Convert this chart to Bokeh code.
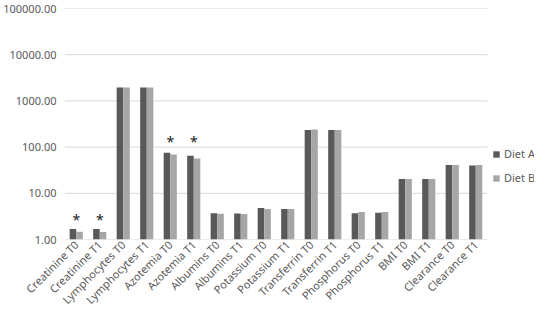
from math import pi
from bokeh.plotting import figure
from bokeh.models import (ColumnDataSource, FixedTicker, NumeralTickFormatter, Legend, LegendItem,
                          FactorRange)
from bokeh.transform import dodge
from bokeh.core.properties import value
from bokeh.embed import file_html
from bokeh.resources import INLINE

categories = ["Creatinine T0", "Creatinine T1", "Lymphocytes T0", "Lymphocytes T1",
              "Azotemia T0", "Azotemia T1", "Albumins T0", "Albumins T1",
              "Potassium T0", "Potassium T1", "Transferrin T0", "Transferrin T1",
              "Phosphorus T0", "Phosphorus T1", "BMI T0", "BMI T1",
              "Clearance T0", "Clearance T1"]
diet_a = [1.68, 1.68, 1950, 1950, 75, 65, 3.7, 3.65, 4.8, 4.6, 235, 235, 3.7, 3.8, 20.5, 20.5, 41, 40]
diet_b = [1.47, 1.45, 1950, 1950, 69, 57, 3.6, 3.55, 4.6, 4.6, 240, 235, 3.95, 3.95, 20.5, 20.5, 41, 41]
series_names = ["Diet A", "Diet B"]
series_colors = ["#595959", "#a6a6a6"]
star_cats = ["Creatinine T0", "Creatinine T1", "Azotemia T0", "Azotemia T1"]
star_y = [2.75, 2.75, 135, 135]
y_ticks = [1, 10, 100, 1000, 10000, 100000]

# blank slots on the right of the frame, reserved for the legend
legend_slots = [" ", "  "]

src = ColumnDataSource(dict(cat=categories, a=diet_a, b=diet_b, base=[1] * len(categories)))

p = figure(width=534, height=315, x_range=FactorRange(*(categories + legend_slots)),
           y_axis_type="log", y_range=(1, 100000), output_backend="svg", toolbar_location=None,
           min_border_left=59, min_border_right=0, min_border_top=8, min_border_bottom=70)
p.outline_line_color = None
p.background_fill_color = "white"

# horizontal gridlines and base line across the category area only
grid_src = ColumnDataSource(dict(y=y_ticks, x0=[categories[0]] * len(y_ticks),
                                 x1=[categories[-1]] * len(y_ticks)))
p.segment(x0=dodge("x0", -0.5, range=p.x_range), x1=dodge("x1", 0.5, range=p.x_range),
          y0="y", y1="y", source=grid_src, line_color="#d9d9d9", line_width=1)

ra = p.vbar(x=dodge("cat", -0.14, range=p.x_range), top="a", bottom="base", width=0.28,
            source=src, fill_color=series_colors[0], line_color=None)
rb = p.vbar(x=dodge("cat", 0.14, range=p.x_range), top="b", bottom="base", width=0.28,
            source=src, fill_color=series_colors[1], line_color=None)

p.text(x=star_cats, y=star_y, text=["*"] * len(star_cats), text_align="center",
       text_baseline="middle", text_font_size="14px", text_color="#222222",
       text_font=value("Noto Sans"))

p.yaxis.ticker = FixedTicker(ticks=y_ticks)
p.yaxis.formatter = NumeralTickFormatter(format="0.00")
p.yaxis.axis_line_color = None
p.yaxis.major_tick_line_color = None
p.yaxis.minor_tick_line_color = None
p.yaxis.major_tick_out = 0
p.yaxis.major_label_text_font = "Noto Sans"
p.yaxis.major_label_text_font_size = "11px"
p.yaxis.major_label_text_color = "#595959"
p.yaxis.major_label_standoff = 8

p.xaxis.axis_line_color = None
p.xaxis.major_tick_line_color = None
p.xaxis.minor_tick_line_color = None
p.xaxis.major_tick_out = 0
p.xaxis.major_tick_in = 0
p.xaxis.major_label_orientation = pi / 4
p.xaxis.major_label_text_font = "Noto Sans"
p.xaxis.major_label_text_font_size = "11px"
p.xaxis.major_label_text_color = "#595959"
p.xaxis.major_label_standoff = 3

p.xgrid.grid_line_color = None
p.ygrid.grid_line_color = None

legend = Legend(items=[LegendItem(label=series_names[0], renderers=[ra]),
                       LegendItem(label=series_names[1], renderers=[rb])],
                location=(428, 54), orientation="vertical",
                label_text_font="Noto Sans", label_text_font_size="11px",
                label_text_color="#595959", glyph_width=8, glyph_height=8,
                spacing=9, padding=0, margin=0, border_line_color=None,
                background_fill_alpha=0, label_standoff=4)
p.add_layout(legend)

open("out.html", "w").write(file_html(p, INLINE))
